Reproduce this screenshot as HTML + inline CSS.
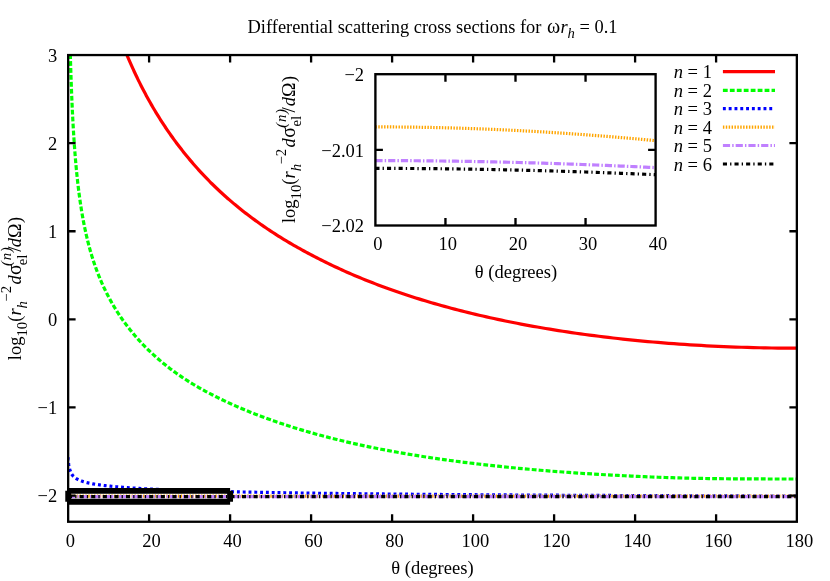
<!DOCTYPE html>
<html><head><meta charset="utf-8"><title>Differential scattering cross sections</title>
<style>html,body{margin:0;padding:0;background:#fff}svg{display:block;will-change:transform}text{font-family:"Liberation Serif",serif;font-size:18.5px;fill:#000}.i{font-style:italic}</style>
</head><body>
<svg width="830" height="581" viewBox="0 0 830 581">
<rect width="830" height="581" fill="#fff"/>
<defs><clipPath id="cm"><rect x="68" y="55" width="729" height="467"/></clipPath>
<clipPath id="ci"><rect x="375.4" y="74.2" width="280.2" height="151.3"/></clipPath></defs>
<g clip-path="url(#cm)" fill="none" stroke-width="3.2">
<path d="M120.00,37.47 L120.46,38.71 L120.93,39.94 L121.40,41.18 L121.88,42.41 L122.36,43.65 L122.85,44.89 L123.34,46.13 L123.83,47.38 L124.33,48.62 L124.83,49.86 L125.34,51.11 L125.85,52.36 L126.36,53.61 L126.88,54.86 L127.41,56.11 L127.94,57.36 L128.47,58.61 L129.01,59.87 L129.56,61.12 L130.10,62.38 L130.66,63.64 L131.22,64.90 L131.78,66.16 L132.35,67.42 L132.92,68.68 L133.50,69.95 L134.08,71.21 L134.67,72.48 L135.27,73.74 L135.86,75.01 L136.47,76.28 L137.08,77.55 L137.69,78.82 L138.31,80.09 L138.94,81.36 L139.57,82.63 L140.21,83.90 L140.85,85.18 L141.50,86.45 L142.15,87.73 L142.81,89.00 L143.48,90.28 L144.15,91.56 L144.83,92.83 L145.51,94.11 L146.20,95.39 L146.90,96.67 L147.60,97.95 L148.31,99.23 L149.02,100.51 L149.74,101.79 L150.47,103.08 L151.20,104.36 L151.94,105.64 L152.69,106.93 L153.44,108.21 L154.20,109.49 L154.97,110.78 L155.74,112.06 L156.52,113.35 L157.31,114.63 L158.10,115.92 L158.90,117.20 L159.71,118.49 L160.53,119.78 L161.35,121.06 L162.18,122.35 L163.02,123.63 L163.86,124.92 L164.71,126.21 L165.57,127.49 L166.44,128.78 L167.31,130.07 L168.20,131.35 L169.09,132.64 L169.98,133.93 L170.89,135.21 L171.80,136.50 L172.73,137.79 L173.66,139.07 L174.59,140.36 L175.54,141.64 L176.50,142.93 L177.46,144.21 L178.43,145.50 L179.41,146.78 L180.40,148.07 L181.40,149.35 L182.41,150.63 L183.42,151.92 L184.45,153.20 L185.48,154.48 L186.52,155.76 L187.58,157.04 L188.64,158.32 L189.71,159.60 L190.79,160.88 L191.88,162.16 L192.98,163.44 L194.09,164.72 L195.21,166.00 L196.33,167.27 L197.47,168.55 L198.62,169.82 L199.78,171.09 L200.95,172.37 L202.13,173.64 L203.32,174.91 L204.52,176.18 L205.73,177.45 L206.95,178.72 L208.19,179.99 L209.43,181.25 L210.69,182.51 L211.95,183.76 L213.23,185.01 L214.52,186.26 L215.82,187.51 L217.13,188.76 L218.45,190.00 L219.78,191.25 L221.13,192.49 L222.49,193.73 L223.86,194.97 L225.24,196.21 L226.64,197.45 L228.04,198.68 L229.46,199.91 L230.89,201.15 L232.34,202.38 L233.80,203.61 L235.27,204.83 L236.75,206.06 L238.24,207.28 L239.75,208.50 L241.28,209.72 L242.81,210.94 L244.36,212.16 L245.93,213.37 L247.50,214.59 L249.09,215.80 L250.70,217.00 L252.32,218.21 L253.95,219.41 L255.60,220.62 L257.26,221.82 L258.94,223.01 L260.63,224.21 L262.34,225.40 L264.06,226.59 L265.80,227.78 L267.55,228.97 L269.32,230.15 L271.11,231.33 L272.91,232.51 L274.72,233.69 L276.55,234.86 L278.40,236.03 L280.27,237.20 L282.15,238.36 L284.05,239.53 L285.96,240.69 L287.89,241.84 L289.84,243.00 L291.80,244.15 L293.79,245.30 L295.79,246.44 L297.81,247.58 L299.84,248.72 L301.90,249.86 L303.97,250.99 L306.06,252.12 L308.17,253.25 L310.29,254.37 L312.44,255.50 L314.61,256.64 L316.79,257.77 L318.99,258.90 L321.22,260.03 L323.46,261.16 L325.72,262.28 L328.01,263.39 L330.31,264.51 L332.63,265.62 L334.98,266.72 L337.34,267.82 L339.73,268.92 L342.13,270.02 L344.56,271.11 L347.01,272.20 L349.48,273.28 L351.97,274.36 L354.49,275.43 L357.02,276.50 L359.58,277.57 L362.17,278.63 L364.77,279.69 L367.40,280.74 L370.05,281.79 L372.72,282.84 L375.42,283.88 L378.14,284.91 L380.89,285.94 L383.66,286.97 L386.46,287.99 L389.27,289.01 L392.12,290.02 L394.99,291.03 L397.88,292.03 L400.80,293.02 L403.75,294.02 L406.72,295.00 L409.72,295.98 L412.75,296.96 L415.80,297.93 L418.88,298.89 L421.98,299.85 L425.12,300.80 L428.28,301.75 L431.47,302.69 L434.69,303.63 L437.93,304.56 L441.21,305.48 L444.51,306.40 L447.84,307.31 L451.21,308.21 L454.60,309.11 L458.02,310.00 L461.47,310.89 L464.95,311.77 L468.47,312.64 L472.01,313.50 L475.59,314.36 L479.20,315.21 L482.83,316.05 L486.51,316.89 L490.21,317.72 L493.95,318.54 L497.72,319.35 L501.52,320.16 L505.36,320.96 L509.23,321.75 L513.13,322.53 L517.07,323.30 L521.05,324.07 L525.06,324.83 L529.10,325.57 L533.18,326.31 L537.30,327.05 L541.45,327.77 L545.64,328.48 L549.87,329.18 L554.13,329.88 L558.43,330.56 L562.77,331.24 L567.15,331.90 L571.57,332.56 L576.02,333.21 L580.52,333.84 L585.05,334.47 L589.63,335.08 L594.24,335.68 L598.90,336.27 L603.60,336.86 L608.34,337.43 L613.12,337.98 L617.94,338.53 L622.81,339.06 L627.72,339.59 L632.67,340.09 L637.67,340.59 L642.71,341.08 L647.79,341.55 L652.92,342.00 L658.10,342.45 L663.32,342.88 L668.58,343.29 L673.90,343.69 L679.26,344.08 L684.67,344.45 L690.12,344.81 L695.63,345.15 L701.18,345.47 L706.78,345.78 L712.43,346.07 L718.13,346.34 L723.88,346.60 L729.69,346.84 L735.54,347.06 L741.45,347.26 L747.40,347.45 L753.41,347.61 L759.48,347.75 L765.59,347.87 L771.77,347.98 L777.99,348.06 L784.27,348.11 L790.61,348.15 L797.00,348.16" stroke="#ff0000"/>
<path d="M69.60,26.36 L69.62,27.41 L69.65,28.47 L69.68,29.53 L69.70,30.61 L69.73,31.69 L69.75,32.78 L69.78,33.88 L69.81,34.98 L69.83,36.09 L69.86,37.20 L69.89,38.32 L69.92,39.45 L69.95,40.58 L69.97,41.72 L70.00,42.86 L70.03,44.00 L70.06,45.15 L70.09,46.31 L70.12,47.47 L70.15,48.63 L70.19,49.80 L70.22,50.97 L70.25,52.14 L70.28,53.32 L70.32,54.49 L70.35,55.68 L70.38,56.86 L70.42,58.05 L70.45,59.24 L70.49,60.43 L70.52,61.62 L70.56,62.82 L70.59,64.01 L70.63,65.21 L70.67,66.41 L70.70,67.62 L70.74,68.82 L70.78,70.02 L70.82,71.23 L70.86,72.43 L70.90,73.64 L70.94,74.85 L70.98,76.06 L71.02,77.26 L71.06,78.47 L71.10,79.68 L71.14,80.89 L71.19,82.10 L71.23,83.31 L71.27,84.52 L71.32,85.73 L71.36,86.94 L71.41,88.15 L71.46,89.36 L71.50,90.57 L71.55,91.78 L71.60,92.99 L71.65,94.19 L71.69,95.40 L71.74,96.61 L71.79,97.81 L71.84,99.02 L71.90,100.22 L71.95,101.42 L72.00,102.62 L72.05,103.82 L72.11,105.02 L72.16,106.22 L72.22,107.42 L72.27,108.62 L72.33,109.81 L72.38,111.00 L72.44,112.20 L72.50,113.39 L72.56,114.58 L72.62,115.76 L72.68,116.95 L72.74,118.13 L72.80,119.32 L72.86,120.50 L72.93,121.68 L72.99,122.86 L73.06,124.03 L73.12,125.21 L73.19,126.38 L73.26,127.55 L73.32,128.72 L73.39,129.89 L73.46,131.05 L73.53,132.22 L73.60,133.38 L73.68,134.54 L73.75,135.70 L73.82,136.85 L73.90,138.01 L73.97,139.16 L74.05,140.31 L74.13,141.46 L74.20,142.60 L74.28,143.75 L74.36,144.89 L74.44,146.03 L74.53,147.17 L74.61,148.30 L74.69,149.44 L74.78,150.57 L74.86,151.70 L74.95,152.82 L75.04,153.95 L75.13,155.07 L75.22,156.19 L75.31,157.31 L75.40,158.42 L75.49,159.54 L75.59,160.65 L75.68,161.76 L75.78,162.86 L75.88,163.97 L75.98,165.07 L76.08,166.17 L76.18,167.27 L76.28,168.37 L76.38,169.46 L76.49,170.55 L76.59,171.64 L76.70,172.73 L76.81,173.81 L76.92,174.89 L77.03,175.97 L77.14,177.05 L77.26,178.13 L77.37,179.20 L77.49,180.27 L77.60,181.34 L77.72,182.41 L77.84,183.47 L77.97,184.53 L78.09,185.59 L78.21,186.65 L78.34,187.71 L78.47,188.76 L78.60,189.81 L78.73,190.86 L78.86,191.91 L79.00,192.95 L79.13,194.00 L79.27,195.04 L79.41,196.08 L79.55,197.11 L79.69,198.15 L79.83,199.18 L79.98,200.21 L80.13,201.24 L80.27,202.26 L80.43,203.29 L80.58,204.31 L80.73,205.33 L80.89,206.35 L81.05,207.36 L81.21,208.38 L81.37,209.39 L81.53,210.40 L81.70,211.41 L81.86,212.41 L82.03,213.42 L82.20,214.42 L82.38,215.42 L82.55,216.42 L82.73,217.41 L82.91,218.41 L83.09,219.40 L83.28,220.39 L83.46,221.38 L83.65,222.37 L83.84,223.35 L84.03,224.34 L84.23,225.32 L84.43,226.30 L84.63,227.28 L84.83,228.26 L85.03,229.23 L85.24,230.20 L85.45,231.18 L85.66,232.15 L85.87,233.12 L86.09,234.08 L86.31,235.05 L86.53,236.01 L86.76,236.97 L86.98,237.94 L87.21,238.89 L87.45,239.85 L87.68,240.81 L87.92,241.76 L88.16,242.72 L88.40,243.67 L88.65,244.62 L88.90,245.57 L89.15,246.52 L89.41,247.46 L89.67,248.41 L89.93,249.35 L90.19,250.30 L90.46,251.24 L90.73,252.18 L91.00,253.12 L91.28,254.05 L91.56,254.99 L91.84,255.93 L92.13,256.86 L92.42,257.79 L92.72,258.73 L93.01,259.66 L93.31,260.59 L93.62,261.52 L93.93,262.44 L94.24,263.37 L94.55,264.30 L94.87,265.22 L95.20,266.14 L95.52,267.07 L95.85,267.99 L96.19,268.91 L96.53,269.83 L96.87,270.75 L97.21,271.67 L97.56,272.59 L97.92,273.50 L98.28,274.42 L98.64,275.33 L99.01,276.25 L99.38,277.16 L99.76,278.08 L100.14,278.99 L100.52,279.90 L100.91,280.81 L101.30,281.72 L101.70,282.63 L102.11,283.54 L102.51,284.45 L102.93,285.36 L103.35,286.27 L103.77,287.17 L104.20,288.08 L104.63,288.99 L105.07,289.89 L105.51,290.81 L105.96,291.73 L106.41,292.64 L106.87,293.56 L107.33,294.47 L107.80,295.39 L108.28,296.30 L108.76,297.22 L109.25,298.13 L109.74,299.05 L110.24,299.96 L110.74,300.87 L111.25,301.79 L111.77,302.70 L112.29,303.62 L112.82,304.53 L113.35,305.44 L113.89,306.36 L114.44,307.27 L114.99,308.18 L115.55,309.10 L116.12,310.01 L116.69,310.93 L117.27,311.84 L117.86,312.75 L118.46,313.67 L119.06,314.58 L119.66,315.50 L120.28,316.41 L120.90,317.32 L121.53,318.24 L122.17,319.15 L122.81,320.07 L123.47,320.98 L124.13,321.90 L124.79,322.82 L125.47,323.73 L126.15,324.65 L126.84,325.57 L127.54,326.49 L128.25,327.42 L128.97,328.34 L129.69,329.26 L130.43,330.18 L131.17,331.10 L131.92,332.02 L132.68,332.95 L133.45,333.87 L134.23,334.79 L135.01,335.72 L135.81,336.64 L136.62,337.57 L137.43,338.49 L138.26,339.42 L139.09,340.34 L139.93,341.27 L140.79,342.20 L141.65,343.13 L142.53,344.05 L143.41,344.98 L144.31,345.91 L145.21,346.84 L146.13,347.76 L147.06,348.67 L147.99,349.59 L148.94,350.51 L149.90,351.43 L150.88,352.35 L151.86,353.27 L152.85,354.19 L153.86,355.11 L154.88,356.03 L155.91,356.95 L156.95,357.87 L158.01,358.79 L159.08,359.71 L160.16,360.63 L161.25,361.55 L162.35,362.47 L163.47,363.40 L164.60,364.32 L165.75,365.24 L166.91,366.17 L168.08,367.09 L169.27,368.01 L170.47,368.93 L171.68,369.84 L172.91,370.74 L174.15,371.64 L175.41,372.55 L176.68,373.45 L177.97,374.36 L179.27,375.26 L180.59,376.17 L181.93,377.07 L183.27,377.97 L184.64,378.88 L186.02,379.78 L187.42,380.68 L188.83,381.59 L190.26,382.49 L191.71,383.37 L193.18,384.25 L194.66,385.14 L196.16,386.02 L197.68,386.90 L199.21,387.78 L200.76,388.66 L202.34,389.54 L203.93,390.41 L205.54,391.29 L207.16,392.17 L208.81,393.04 L210.48,393.92 L212.16,394.79 L213.87,395.66 L215.60,396.54 L217.34,397.41 L219.11,398.28 L220.90,399.14 L222.71,400.01 L224.54,400.88 L226.39,401.74 L228.26,402.61 L230.16,403.48 L232.08,404.36 L234.02,405.23 L235.98,406.11 L237.97,406.98 L239.98,407.85 L242.01,408.72 L244.07,409.59 L246.15,410.45 L248.26,411.31 L250.39,412.18 L252.55,413.04 L254.73,413.90 L256.94,414.75 L259.17,415.61 L261.43,416.46 L263.72,417.31 L266.03,418.16 L268.38,419.01 L270.74,419.87 L273.14,420.72 L275.57,421.56 L278.02,422.41 L280.50,423.25 L283.02,424.09 L285.56,424.93 L288.13,425.77 L290.73,426.60 L293.36,427.43 L296.03,428.26 L298.72,429.08 L301.45,429.90 L304.21,430.72 L307.00,431.54 L309.82,432.35 L312.68,433.16 L315.57,433.96 L318.50,434.77 L321.46,435.56 L324.45,436.36 L327.48,437.15 L330.55,437.94 L333.65,438.72 L336.79,439.50 L339.97,440.28 L343.18,441.05 L346.43,441.82 L349.72,442.58 L353.05,443.34 L356.42,444.10 L359.82,444.85 L363.27,445.60 L366.76,446.34 L370.29,447.07 L373.86,447.80 L377.47,448.52 L381.13,449.23 L384.83,449.94 L388.57,450.65 L392.36,451.34 L396.19,452.04 L400.06,452.73 L403.99,453.41 L407.95,454.08 L411.97,454.75 L416.03,455.42 L420.14,456.08 L424.30,456.73 L428.51,457.37 L432.77,458.01 L437.07,458.64 L441.43,459.27 L445.84,459.89 L450.30,460.50 L454.82,461.10 L459.39,461.70 L464.01,462.29 L468.68,462.87 L473.42,463.45 L478.20,464.02 L483.05,464.58 L487.95,465.13 L492.91,465.67 L497.92,466.21 L503.00,466.74 L508.13,467.27 L513.33,467.78 L518.59,468.29 L523.91,468.79 L529.29,469.28 L534.74,469.76 L540.25,470.23 L545.82,470.69 L551.46,471.14 L557.17,471.59 L562.95,472.02 L568.79,472.44 L574.70,472.85 L580.68,473.25 L586.73,473.64 L592.86,474.02 L599.05,474.39 L605.32,474.74 L611.66,475.08 L618.08,475.41 L624.58,475.75 L631.15,476.08 L637.79,476.39 L644.52,476.69 L651.32,476.98 L658.21,477.24 L665.17,477.49 L672.22,477.72 L679.35,477.93 L686.57,478.12 L693.87,478.29 L701.26,478.43 L708.73,478.56 L716.29,478.66 L723.95,478.75 L731.69,478.82 L739.52,478.88 L747.45,478.92 L755.46,478.95 L763.58,478.97 L771.79,478.99 L780.09,479.00 L788.50,479.01 L797.00,479.02" stroke="#00ff00" stroke-dasharray="4.8 2.15"/>
<path d="M68.10,457.42 L68.11,457.62 L68.12,457.82 L68.13,458.01 L68.14,458.20 L68.16,458.39 L68.17,458.59 L68.18,458.78 L68.19,458.96 L68.20,459.15 L68.22,459.34 L68.23,459.53 L68.24,459.71 L68.26,459.90 L68.27,460.08 L68.28,460.27 L68.30,460.45 L68.31,460.63 L68.33,460.81 L68.34,460.99 L68.36,461.17 L68.37,461.35 L68.39,461.52 L68.40,461.70 L68.42,461.87 L68.44,462.05 L68.45,462.22 L68.47,462.40 L68.49,462.57 L68.51,462.74 L68.52,462.91 L68.54,463.08 L68.56,463.25 L68.58,463.42 L68.60,463.58 L68.62,463.75 L68.64,463.92 L68.66,464.08 L68.68,464.25 L68.70,464.41 L68.72,464.57 L68.74,464.73 L68.77,464.89 L68.79,465.05 L68.81,465.21 L68.84,465.37 L68.86,465.53 L68.89,465.69 L68.91,465.84 L68.94,466.00 L68.96,466.15 L68.99,466.31 L69.01,466.46 L69.04,466.61 L69.07,466.77 L69.10,466.92 L69.13,467.07 L69.16,467.22 L69.18,467.37 L69.22,467.52 L69.25,467.66 L69.28,467.81 L69.31,467.96 L69.34,468.10 L69.37,468.25 L69.41,468.39 L69.44,468.53 L69.48,468.68 L69.51,468.82 L69.55,468.96 L69.59,469.10 L69.62,469.24 L69.66,469.38 L69.70,469.52 L69.74,469.66 L69.78,469.80 L69.82,469.93 L69.86,470.07 L69.91,470.20 L69.95,470.34 L69.99,470.47 L70.04,470.61 L70.08,470.74 L70.13,470.87 L70.18,471.00 L70.22,471.13 L70.27,471.27 L70.32,471.39 L70.37,471.52 L70.43,471.65 L70.48,471.78 L70.53,471.91 L70.59,472.03 L70.64,472.16 L70.70,472.29 L70.76,472.41 L70.81,472.54 L70.87,472.66 L70.93,472.78 L71.00,472.91 L71.06,473.03 L71.12,473.15 L71.19,473.27 L71.25,473.39 L71.32,473.51 L71.39,473.63 L71.46,473.75 L71.53,473.87 L71.60,473.99 L71.68,474.10 L71.75,474.22 L71.83,474.34 L71.91,474.45 L71.99,474.57 L72.07,474.68 L72.15,474.80 L72.23,474.91 L72.32,475.02 L72.40,475.13 L72.49,475.25 L72.58,475.36 L72.67,475.47 L72.76,475.58 L72.86,475.69 L72.96,475.80 L73.05,475.91 L73.15,476.02 L73.26,476.13 L73.36,476.23 L73.46,476.34 L73.57,476.45 L73.68,476.55 L73.79,476.66 L73.90,476.77 L74.02,476.87 L74.14,476.97 L74.26,477.08 L74.38,477.18 L74.50,477.29 L74.63,477.39 L74.75,477.49 L74.88,477.59 L75.02,477.69 L75.15,477.80 L75.29,477.90 L75.43,478.00 L75.57,478.10 L75.72,478.20 L75.86,478.30 L76.01,478.39 L76.17,478.49 L76.32,478.59 L76.48,478.69 L76.64,478.79 L76.81,478.88 L76.97,478.98 L77.14,479.07 L77.32,479.17 L77.49,479.27 L77.67,479.36 L77.86,479.46 L78.04,479.55 L78.23,479.64 L78.42,479.74 L78.62,479.83 L78.82,479.92 L79.02,480.02 L79.23,480.11 L79.44,480.20 L79.66,480.29 L79.87,480.38 L80.10,480.47 L80.32,480.57 L80.55,480.66 L80.79,480.75 L81.03,480.84 L81.27,480.93 L81.52,481.01 L81.77,481.10 L82.02,481.19 L82.29,481.28 L82.55,481.37 L82.82,481.46 L83.10,481.54 L83.38,481.63 L83.66,481.72 L83.95,481.80 L84.25,481.89 L84.55,481.98 L84.85,482.06 L85.17,482.15 L85.48,482.23 L85.81,482.32 L86.14,482.41 L86.47,482.49 L86.81,482.57 L87.16,482.66 L87.51,482.74 L87.87,482.83 L88.24,482.91 L88.61,482.99 L88.99,483.08 L89.37,483.16 L89.77,483.24 L90.17,483.33 L90.57,483.41 L90.99,483.49 L91.41,483.57 L91.84,483.65 L92.28,483.74 L92.72,483.82 L93.17,483.90 L93.64,483.98 L94.11,484.06 L94.58,484.14 L95.07,484.22 L95.56,484.30 L96.07,484.38 L96.58,484.46 L97.10,484.54 L97.64,484.62 L98.18,484.70 L98.73,484.78 L99.29,484.86 L99.86,484.94 L100.44,485.02 L101.03,485.10 L101.64,485.18 L102.25,485.26 L102.87,485.34 L103.51,485.42 L104.15,485.50 L104.81,485.57 L105.48,485.65 L106.17,485.73 L106.86,485.81 L107.57,485.89 L108.29,485.97 L109.02,486.04 L109.77,486.12 L110.52,486.20 L111.30,486.28 L112.08,486.36 L112.88,486.43 L113.70,486.51 L114.53,486.59 L115.37,486.67 L116.23,486.75 L117.11,486.82 L118.00,486.90 L118.91,486.98 L119.83,487.05 L120.77,487.13 L121.73,487.21 L122.70,487.29 L123.69,487.36 L124.70,487.44 L125.73,487.52 L126.78,487.59 L127.84,487.67 L128.92,487.75 L130.03,487.82 L131.15,487.90 L132.29,487.97 L133.46,488.05 L134.64,488.13 L135.85,488.20 L137.08,488.28 L138.33,488.35 L139.60,488.43 L140.89,488.50 L142.21,488.58 L143.55,488.65 L144.92,488.73 L146.31,488.80 L147.73,488.88 L149.17,488.95 L150.63,489.03 L152.13,489.10 L153.65,489.18 L155.20,489.25 L156.77,489.32 L158.37,489.40 L160.01,489.47 L161.67,489.54 L163.36,489.62 L165.08,489.69 L166.83,489.76 L168.62,489.83 L170.43,489.91 L172.28,489.98 L174.16,490.05 L176.08,490.12 L178.03,490.19 L180.02,490.26 L182.04,490.34 L184.09,490.41 L186.19,490.48 L188.32,490.55 L190.49,490.62 L192.70,490.69 L194.95,490.76 L197.24,490.83 L199.57,490.90 L201.94,490.97 L204.36,491.04 L206.81,491.10 L209.32,491.17 L211.86,491.24 L214.46,491.31 L217.10,491.38 L219.78,491.44 L222.52,491.51 L225.30,491.58 L228.14,491.65 L231.02,491.71 L233.96,491.78 L236.95,491.84 L239.99,491.91 L243.09,491.98 L246.25,492.04 L249.46,492.11 L252.72,492.17 L256.05,492.24 L259.44,492.30 L262.89,492.36 L266.40,492.43 L269.97,492.49 L273.60,492.55 L277.31,492.62 L281.08,492.68 L284.91,492.74 L288.82,492.80 L292.79,492.86 L296.84,492.93 L300.96,492.99 L305.15,493.05 L309.42,493.11 L313.77,493.17 L318.19,493.23 L322.69,493.29 L327.28,493.34 L331.94,493.40 L336.69,493.46 L341.53,493.52 L346.45,493.58 L351.46,493.63 L356.56,493.69 L361.75,493.75 L367.04,493.80 L372.42,493.86 L377.89,493.92 L383.47,493.97 L389.14,494.03 L394.92,494.08 L400.80,494.13 L406.79,494.19 L412.88,494.24 L419.09,494.29 L425.40,494.35 L431.83,494.40 L438.38,494.45 L445.04,494.50 L451.82,494.55 L458.72,494.60 L465.75,494.65 L472.90,494.70 L480.18,494.75 L487.60,494.80 L495.14,494.85 L502.82,494.90 L510.64,494.95 L518.60,495.00 L526.70,495.04 L534.95,495.09 L543.35,495.14 L551.90,495.18 L560.60,495.23 L569.45,495.27 L578.47,495.32 L587.65,495.36 L596.99,495.40 L606.50,495.45 L616.18,495.49 L626.04,495.53 L636.07,495.57 L646.28,495.61 L656.68,495.66 L667.26,495.70 L678.03,495.74 L689.00,495.78 L700.16,495.81 L711.53,495.85 L723.10,495.89 L734.87,495.93 L746.86,495.97 L759.06,496.00 L771.48,496.04 L784.13,496.07 L797.00,496.11" stroke="#0000ff" stroke-dasharray="2.9 2.9"/>
<path d="M68.00,496.18 L72.05,496.18 L76.10,496.18 L80.15,496.18 L84.20,496.18 L88.25,496.18 L92.30,496.18 L96.35,496.18 L100.40,496.18 L104.45,496.18 L108.50,496.18 L112.55,496.18 L116.60,496.18 L120.65,496.18 L124.70,496.18 L128.75,496.18 L132.80,496.18 L136.85,496.18 L140.90,496.18 L144.95,496.18 L149.00,496.18 L153.05,496.18 L157.10,496.18 L161.15,496.18 L165.20,496.18 L169.25,496.18 L173.30,496.18 L177.35,496.18 L181.40,496.18 L185.45,496.18 L189.50,496.18 L193.55,496.18 L197.60,496.18 L201.65,496.18 L205.70,496.18 L209.75,496.18 L213.80,496.18 L217.85,496.18 L221.90,496.18 L225.95,496.18 L230.00,496.18 L234.05,496.18 L238.10,496.18 L242.15,496.18 L246.20,496.18 L250.25,496.18 L254.30,496.18 L258.35,496.18 L262.40,496.18 L266.45,496.18 L270.50,496.18 L274.55,496.18 L278.60,496.18 L282.65,496.18 L286.70,496.18 L290.75,496.18 L294.80,496.18 L298.85,496.18 L302.90,496.18 L306.95,496.18 L311.00,496.18 L315.05,496.18 L319.10,496.18 L323.15,496.18 L327.20,496.18 L331.25,496.18 L335.30,496.18 L339.35,496.18 L343.40,496.18 L347.45,496.18 L351.50,496.18 L355.55,496.18 L359.60,496.18 L363.65,496.18 L367.70,496.18 L371.75,496.18 L375.80,496.18 L379.85,496.18 L383.90,496.18 L387.95,496.18 L392.00,496.18 L396.05,496.18 L400.10,496.18 L404.15,496.18 L408.20,496.18 L412.25,496.18 L416.30,496.18 L420.35,496.18 L424.40,496.18 L428.45,496.18 L432.50,496.18 L436.55,496.18 L440.60,496.18 L444.65,496.18 L448.70,496.18 L452.75,496.18 L456.80,496.18 L460.85,496.18 L464.90,496.18 L468.95,496.18 L473.00,496.18 L477.05,496.18 L481.10,496.18 L485.15,496.18 L489.20,496.18 L493.25,496.18 L497.30,496.18 L501.35,496.18 L505.40,496.18 L509.45,496.18 L513.50,496.18 L517.55,496.18 L521.60,496.18 L525.65,496.18 L529.70,496.18 L533.75,496.18 L537.80,496.18 L541.85,496.18 L545.90,496.18 L549.95,496.18 L554.00,496.18 L558.05,496.18 L562.10,496.18 L566.15,496.18 L570.20,496.18 L574.25,496.18 L578.30,496.18 L582.35,496.18 L586.40,496.18 L590.45,496.18 L594.50,496.18 L598.55,496.18 L602.60,496.18 L606.65,496.18 L610.70,496.18 L614.75,496.18 L618.80,496.18 L622.85,496.18 L626.90,496.18 L630.95,496.18 L635.00,496.18 L639.05,496.18 L643.10,496.18 L647.15,496.18 L651.20,496.18 L655.25,496.18 L659.30,496.18 L663.35,496.18 L667.40,496.18 L671.45,496.18 L675.50,496.18 L679.55,496.18 L683.60,496.18 L687.65,496.18 L691.70,496.18 L695.75,496.18 L699.80,496.18 L703.85,496.18 L707.90,496.18 L711.95,496.18 L716.00,496.18 L720.05,496.18 L724.10,496.18 L728.15,496.18 L732.20,496.18 L736.25,496.18 L740.30,496.18 L744.35,496.18 L748.40,496.18 L752.45,496.18 L756.50,496.18 L760.55,496.18 L764.60,496.18 L768.65,496.18 L772.70,496.18 L776.75,496.18 L780.80,496.18 L784.85,496.18 L788.90,496.18 L792.95,496.18 L797.00,496.18" stroke="#ffa500" stroke-dasharray="1.45 1.44"/>
<path d="M68.00,496.57 L72.05,496.57 L76.10,496.57 L80.15,496.57 L84.20,496.57 L88.25,496.57 L92.30,496.57 L96.35,496.57 L100.40,496.57 L104.45,496.57 L108.50,496.57 L112.55,496.57 L116.60,496.57 L120.65,496.57 L124.70,496.57 L128.75,496.57 L132.80,496.57 L136.85,496.57 L140.90,496.57 L144.95,496.57 L149.00,496.57 L153.05,496.57 L157.10,496.57 L161.15,496.57 L165.20,496.57 L169.25,496.57 L173.30,496.57 L177.35,496.57 L181.40,496.57 L185.45,496.57 L189.50,496.57 L193.55,496.57 L197.60,496.57 L201.65,496.57 L205.70,496.57 L209.75,496.57 L213.80,496.57 L217.85,496.57 L221.90,496.57 L225.95,496.57 L230.00,496.57 L234.05,496.57 L238.10,496.57 L242.15,496.57 L246.20,496.57 L250.25,496.57 L254.30,496.57 L258.35,496.57 L262.40,496.57 L266.45,496.57 L270.50,496.57 L274.55,496.57 L278.60,496.57 L282.65,496.57 L286.70,496.57 L290.75,496.57 L294.80,496.57 L298.85,496.57 L302.90,496.57 L306.95,496.57 L311.00,496.57 L315.05,496.57 L319.10,496.57 L323.15,496.57 L327.20,496.57 L331.25,496.57 L335.30,496.57 L339.35,496.57 L343.40,496.57 L347.45,496.57 L351.50,496.57 L355.55,496.57 L359.60,496.57 L363.65,496.57 L367.70,496.57 L371.75,496.57 L375.80,496.57 L379.85,496.57 L383.90,496.57 L387.95,496.57 L392.00,496.57 L396.05,496.57 L400.10,496.57 L404.15,496.57 L408.20,496.57 L412.25,496.57 L416.30,496.57 L420.35,496.57 L424.40,496.57 L428.45,496.57 L432.50,496.57 L436.55,496.57 L440.60,496.57 L444.65,496.57 L448.70,496.57 L452.75,496.57 L456.80,496.57 L460.85,496.57 L464.90,496.57 L468.95,496.57 L473.00,496.57 L477.05,496.57 L481.10,496.57 L485.15,496.57 L489.20,496.57 L493.25,496.57 L497.30,496.57 L501.35,496.57 L505.40,496.57 L509.45,496.57 L513.50,496.57 L517.55,496.57 L521.60,496.57 L525.65,496.57 L529.70,496.57 L533.75,496.57 L537.80,496.57 L541.85,496.57 L545.90,496.57 L549.95,496.57 L554.00,496.57 L558.05,496.57 L562.10,496.57 L566.15,496.57 L570.20,496.57 L574.25,496.57 L578.30,496.57 L582.35,496.57 L586.40,496.57 L590.45,496.57 L594.50,496.57 L598.55,496.57 L602.60,496.57 L606.65,496.57 L610.70,496.57 L614.75,496.57 L618.80,496.57 L622.85,496.57 L626.90,496.57 L630.95,496.57 L635.00,496.57 L639.05,496.57 L643.10,496.57 L647.15,496.57 L651.20,496.57 L655.25,496.57 L659.30,496.57 L663.35,496.57 L667.40,496.57 L671.45,496.57 L675.50,496.57 L679.55,496.57 L683.60,496.57 L687.65,496.57 L691.70,496.57 L695.75,496.57 L699.80,496.57 L703.85,496.57 L707.90,496.57 L711.95,496.57 L716.00,496.57 L720.05,496.57 L724.10,496.57 L728.15,496.57 L732.20,496.57 L736.25,496.57 L740.30,496.57 L744.35,496.57 L748.40,496.57 L752.45,496.57 L756.50,496.57 L760.55,496.57 L764.60,496.57 L768.65,496.57 L772.70,496.57 L776.75,496.57 L780.80,496.57 L784.85,496.57 L788.90,496.57 L792.95,496.57 L797.00,496.57" stroke="#c080ff" stroke-dasharray="7.2 2.1 1.45 2"/>
<path d="M68.00,496.66 L72.05,496.66 L76.10,496.66 L80.15,496.66 L84.20,496.66 L88.25,496.66 L92.30,496.66 L96.35,496.66 L100.40,496.66 L104.45,496.66 L108.50,496.66 L112.55,496.66 L116.60,496.66 L120.65,496.66 L124.70,496.66 L128.75,496.66 L132.80,496.66 L136.85,496.66 L140.90,496.66 L144.95,496.66 L149.00,496.66 L153.05,496.66 L157.10,496.66 L161.15,496.66 L165.20,496.66 L169.25,496.66 L173.30,496.66 L177.35,496.66 L181.40,496.66 L185.45,496.66 L189.50,496.66 L193.55,496.66 L197.60,496.66 L201.65,496.66 L205.70,496.66 L209.75,496.66 L213.80,496.66 L217.85,496.66 L221.90,496.66 L225.95,496.66 L230.00,496.66 L234.05,496.66 L238.10,496.66 L242.15,496.66 L246.20,496.66 L250.25,496.66 L254.30,496.66 L258.35,496.66 L262.40,496.66 L266.45,496.66 L270.50,496.66 L274.55,496.66 L278.60,496.66 L282.65,496.66 L286.70,496.66 L290.75,496.66 L294.80,496.66 L298.85,496.66 L302.90,496.66 L306.95,496.66 L311.00,496.66 L315.05,496.66 L319.10,496.66 L323.15,496.66 L327.20,496.66 L331.25,496.66 L335.30,496.66 L339.35,496.66 L343.40,496.66 L347.45,496.66 L351.50,496.66 L355.55,496.66 L359.60,496.66 L363.65,496.66 L367.70,496.66 L371.75,496.66 L375.80,496.66 L379.85,496.66 L383.90,496.66 L387.95,496.66 L392.00,496.66 L396.05,496.66 L400.10,496.66 L404.15,496.66 L408.20,496.66 L412.25,496.66 L416.30,496.66 L420.35,496.66 L424.40,496.66 L428.45,496.66 L432.50,496.66 L436.55,496.66 L440.60,496.66 L444.65,496.66 L448.70,496.66 L452.75,496.66 L456.80,496.66 L460.85,496.66 L464.90,496.66 L468.95,496.66 L473.00,496.66 L477.05,496.66 L481.10,496.66 L485.15,496.66 L489.20,496.66 L493.25,496.66 L497.30,496.66 L501.35,496.66 L505.40,496.66 L509.45,496.66 L513.50,496.66 L517.55,496.66 L521.60,496.66 L525.65,496.66 L529.70,496.66 L533.75,496.66 L537.80,496.66 L541.85,496.66 L545.90,496.66 L549.95,496.66 L554.00,496.66 L558.05,496.66 L562.10,496.66 L566.15,496.66 L570.20,496.66 L574.25,496.66 L578.30,496.66 L582.35,496.66 L586.40,496.66 L590.45,496.66 L594.50,496.66 L598.55,496.66 L602.60,496.66 L606.65,496.66 L610.70,496.66 L614.75,496.66 L618.80,496.66 L622.85,496.66 L626.90,496.66 L630.95,496.66 L635.00,496.66 L639.05,496.66 L643.10,496.66 L647.15,496.66 L651.20,496.66 L655.25,496.66 L659.30,496.66 L663.35,496.66 L667.40,496.66 L671.45,496.66 L675.50,496.66 L679.55,496.66 L683.60,496.66 L687.65,496.66 L691.70,496.66 L695.75,496.66 L699.80,496.66 L703.85,496.66 L707.90,496.66 L711.95,496.66 L716.00,496.66 L720.05,496.66 L724.10,496.66 L728.15,496.66 L732.20,496.66 L736.25,496.66 L740.30,496.66 L744.35,496.66 L748.40,496.66 L752.45,496.66 L756.50,496.66 L760.55,496.66 L764.60,496.66 L768.65,496.66 L772.70,496.66 L776.75,496.66 L780.80,496.66 L784.85,496.66 L788.90,496.66 L792.95,496.66 L797.00,496.66" stroke="#000000" stroke-dasharray="4.1 3.1 1.3 3.1"/>
</g>
<g stroke="#000" stroke-width="5.85" fill="none">
<path d="M68.20,490.87 H230.10 M68.20,501.77 H230.10 M68.20,490.87 V501.77 M230.10,490.87 V501.77"/>
</g>
<g stroke="#000" stroke-width="2.3" fill="none">
<rect x="68.15" y="55.05" width="728.7" height="466.7"/>
<path d="M149.10,521.8 v-7.5 M149.10,55 v7.5 M230.10,521.8 v-7.5 M230.10,55 v7.5 M311.10,521.8 v-7.5 M311.10,55 v7.5 M392.10,521.8 v-7.5 M392.10,55 v7.5 M473.10,521.8 v-7.5 M473.10,55 v7.5 M554.10,521.8 v-7.5 M554.10,55 v7.5 M635.10,521.8 v-7.5 M635.10,55 v7.5 M716.10,521.8 v-7.5 M716.10,55 v7.5 M68.1,143.11 h7.5 M796.9,143.11 h-7.5 M68.1,231.23 h7.5 M796.9,231.23 h-7.5 M68.1,319.34 h7.5 M796.9,319.34 h-7.5 M68.1,407.45 h7.5 M796.9,407.45 h-7.5 M68.1,495.57 h7.5 M796.9,495.57 h-7.5"/>
</g>
<g text-anchor="middle">
<text x="70.4" y="546.7">0</text>
<text x="151.4" y="546.7">20</text>
<text x="232.4" y="546.7">40</text>
<text x="313.4" y="546.7">60</text>
<text x="394.4" y="546.7">80</text>
<text x="475.4" y="546.7">100</text>
<text x="556.4" y="546.7">120</text>
<text x="637.4" y="546.7">140</text>
<text x="718.4" y="546.7">160</text>
<text x="799.4" y="546.7">180</text>
</g>
<g text-anchor="end">
<text x="57.3" y="61.7">3</text>
<text x="57.3" y="149.8">2</text>
<text x="57.3" y="237.9">1</text>
<text x="57.3" y="326.0">0</text>
<text x="57.3" y="414.2">−1</text>
<text x="57.3" y="502.3">−2</text>
</g>
<text x="247.6" y="32.6" style="font-size:18.4px">Differential scattering cross sections for <tspan dx="1" style="font-size:20px">ω</tspan><tspan class="i" dx="0.2">r</tspan><tspan class="i" font-size="14.7" dy="4.9">h</tspan><tspan dy="-4.9"> = 0.1</tspan></text>
<text x="432.4" y="574.2" text-anchor="middle">θ (degrees)</text>
<g transform="translate(20.7,360.2) rotate(-90)">
<text x="0" y="0">log<tspan font-size="14.8" dy="6">10</tspan><tspan dy="-6">(</tspan><tspan class="i">r</tspan><tspan class="i" font-size="14.8" dy="6">h</tspan><tspan font-size="14.8" dy="-15.3" dx="-0.7">−2</tspan><tspan class="i" dy="9.3" dx="1.4">d</tspan><tspan font-size="20" dx="0.4">σ</tspan></text>
<text x="94.9" y="6" style="font-size:14.8px">el</text>
<text x="94.3" y="-9.3" class="i" style="font-size:14.8px;letter-spacing:0.7px">(n)</text>
<text x="108.4" y="0">/<tspan class="i" dx="-0.6">d</tspan><tspan font-size="19.5">Ω</tspan><tspan dx="0.5">)</tspan></text>
</g>
<g transform="translate(295.3,223.1) rotate(-90)">
<text x="0" y="0">log<tspan font-size="14.8" dy="6">10</tspan><tspan dy="-6">(</tspan><tspan class="i">r</tspan><tspan class="i" font-size="14.8" dy="6">h</tspan><tspan font-size="14.8" dy="-15.3" dx="-0.7">−2</tspan><tspan class="i" dy="9.3" dx="1.4">d</tspan><tspan font-size="20" dx="0.4">σ</tspan></text>
<text x="96.6" y="6" style="font-size:14.8px">el</text>
<text x="95.4" y="-9.3" class="i" style="font-size:14.8px;letter-spacing:0.7px">(n)</text>
<text x="110.7" y="0">/<tspan class="i" dx="0.9">d</tspan><tspan font-size="19.5">Ω</tspan><tspan dx="0.5">)</tspan></text>
</g>
<rect x="375.4" y="74.2" width="280.2" height="151.3" fill="#fff"/>
<g clip-path="url(#ci)" fill="none" stroke-width="3.2">
<path d="M375.40,126.90 L378.90,126.90 L382.40,126.91 L385.91,126.92 L389.41,126.94 L392.91,126.96 L396.41,126.98 L399.92,127.01 L403.42,127.04 L406.92,127.08 L410.42,127.12 L413.93,127.17 L417.43,127.22 L420.93,127.28 L424.44,127.34 L427.94,127.40 L431.44,127.47 L434.94,127.54 L438.44,127.62 L441.95,127.71 L445.45,127.79 L448.95,127.88 L452.45,127.98 L455.96,128.08 L459.46,128.18 L462.96,128.29 L466.46,128.40 L469.97,128.52 L473.47,128.64 L476.97,128.77 L480.48,128.90 L483.98,129.03 L487.48,129.17 L490.98,129.32 L494.49,129.46 L497.99,129.62 L501.49,129.77 L504.99,129.93 L508.50,130.10 L512.00,130.27 L515.50,130.44 L519.00,130.62 L522.50,130.80 L526.01,130.98 L529.51,131.17 L533.01,131.37 L536.51,131.57 L540.02,131.77 L543.52,131.97 L547.02,132.19 L550.52,132.40 L554.03,132.62 L557.53,132.84 L561.03,133.07 L564.54,133.30 L568.04,133.53 L571.54,133.77 L575.04,134.01 L578.55,134.26 L582.05,134.51 L585.55,134.76 L589.05,135.02 L592.56,135.28 L596.06,135.55 L599.56,135.82 L603.06,136.09 L606.57,136.37 L610.07,136.65 L613.57,136.94 L617.07,137.22 L620.58,137.52 L624.08,137.81 L627.58,138.11 L631.08,138.41 L634.59,138.72 L638.09,139.03 L641.59,139.34 L645.09,139.66 L648.60,139.98 L652.10,140.31 L655.60,140.63" stroke="#ffa500" stroke-dasharray="1.45 1.44"/>
<path d="M375.40,160.60 L378.90,160.60 L382.40,160.60 L385.91,160.61 L389.41,160.62 L392.91,160.63 L396.41,160.64 L399.92,160.66 L403.42,160.67 L406.92,160.69 L410.42,160.71 L413.93,160.74 L417.43,160.76 L420.93,160.79 L424.44,160.82 L427.94,160.86 L431.44,160.89 L434.94,160.93 L438.44,160.97 L441.95,161.01 L445.45,161.06 L448.95,161.10 L452.45,161.15 L455.96,161.20 L459.46,161.26 L462.96,161.31 L466.46,161.37 L469.97,161.43 L473.47,161.49 L476.97,161.56 L480.48,161.62 L483.98,161.69 L487.48,161.76 L490.98,161.84 L494.49,161.91 L497.99,161.99 L501.49,162.07 L504.99,162.15 L508.50,162.23 L512.00,162.32 L515.50,162.41 L519.00,162.50 L522.50,162.59 L526.01,162.69 L529.51,162.78 L533.01,162.88 L536.51,162.98 L540.02,163.09 L543.52,163.19 L547.02,163.30 L550.52,163.41 L554.03,163.52 L557.53,163.64 L561.03,163.75 L564.54,163.87 L568.04,163.99 L571.54,164.11 L575.04,164.24 L578.55,164.36 L582.05,164.49 L585.55,164.62 L589.05,164.75 L592.56,164.88 L596.06,165.02 L599.56,165.16 L603.06,165.30 L606.57,165.44 L610.07,165.58 L613.57,165.73 L617.07,165.88 L620.58,166.03 L624.08,166.18 L627.58,166.33 L631.08,166.48 L634.59,166.64 L638.09,166.80 L641.59,166.96 L645.09,167.12 L648.60,167.29 L652.10,167.45 L655.60,167.62" stroke="#c080ff" stroke-dasharray="7.2 2.1 1.45 2"/>
<path d="M375.40,168.40 L378.90,168.40 L382.40,168.40 L385.91,168.41 L389.41,168.42 L392.91,168.43 L396.41,168.44 L399.92,168.45 L403.42,168.47 L406.92,168.48 L410.42,168.50 L413.93,168.52 L417.43,168.55 L420.93,168.57 L424.44,168.60 L427.94,168.63 L431.44,168.66 L434.94,168.70 L438.44,168.73 L441.95,168.77 L445.45,168.81 L448.95,168.85 L452.45,168.90 L455.96,168.94 L459.46,168.99 L462.96,169.04 L466.46,169.09 L469.97,169.15 L473.47,169.20 L476.97,169.26 L480.48,169.32 L483.98,169.38 L487.48,169.45 L490.98,169.51 L494.49,169.58 L497.99,169.65 L501.49,169.72 L504.99,169.80 L508.50,169.87 L512.00,169.95 L515.50,170.03 L519.00,170.11 L522.50,170.19 L526.01,170.28 L529.51,170.37 L533.01,170.46 L536.51,170.55 L540.02,170.64 L543.52,170.73 L547.02,170.83 L550.52,170.93 L554.03,171.03 L557.53,171.13 L561.03,171.24 L564.54,171.34 L568.04,171.45 L571.54,171.56 L575.04,171.67 L578.55,171.79 L582.05,171.90 L585.55,172.02 L589.05,172.14 L592.56,172.26 L596.06,172.38 L599.56,172.50 L603.06,172.63 L606.57,172.76 L610.07,172.89 L613.57,173.02 L617.07,173.15 L620.58,173.28 L624.08,173.42 L627.58,173.56 L631.08,173.70 L634.59,173.84 L638.09,173.98 L641.59,174.12 L645.09,174.27 L648.60,174.42 L652.10,174.57 L655.60,174.72" stroke="#000000" stroke-dasharray="4.1 3.1 1.3 3.1"/>
</g>
<g stroke="#000" stroke-width="2.35" fill="none">
<rect x="375.4" y="74.2" width="280.2" height="151.3"/>
<path d="M445.45,225.6 v-7.5 M445.45,74.2 v7.5 M515.50,225.6 v-7.5 M515.50,74.2 v7.5 M585.55,225.6 v-7.5 M585.55,74.2 v7.5 M375.4,149.92 h7.5 M655.6,149.92 h-7.5"/>
</g>
<g text-anchor="middle">
<text x="377.8" y="250.2">0</text>
<text x="447.8" y="250.2">10</text>
<text x="517.9" y="250.2">20</text>
<text x="587.9" y="250.2">30</text>
<text x="658.0" y="250.2">40</text>
<text x="516" y="278">θ (degrees)</text>
</g>
<g text-anchor="end">
<text x="364.1" y="81.0">−2</text>
<text x="364.1" y="156.6">−2.01</text>
<text x="364.1" y="232.3">−2.02</text>
</g>
<g fill="none" stroke-width="3.2">
<path d="M722.9,71.7 H775.0" stroke="#ff0000"/>
<path d="M722.9,90.4 H775.0" stroke="#00ff00" stroke-dasharray="4.8 2.15"/>
<path d="M722.9,108.6 H775.0" stroke="#0000ff" stroke-dasharray="2.9 2.9"/>
<path d="M722.9,127.2 H775.0" stroke="#ffa500" stroke-dasharray="1.45 1.44"/>
<path d="M722.9,145.5 H775.0" stroke="#c080ff" stroke-dasharray="7.2 2.1 1.45 2"/>
<path d="M722.9,164.0 H775.0" stroke="#000000" stroke-dasharray="4.1 3.1 1.3 3.1"/>
</g>
<g text-anchor="end">
<text x="711.9" y="78.3"><tspan class="i">n</tspan> = 1</text>
<text x="711.9" y="97.0"><tspan class="i">n</tspan> = 2</text>
<text x="711.9" y="115.2"><tspan class="i">n</tspan> = 3</text>
<text x="711.9" y="133.8"><tspan class="i">n</tspan> = 4</text>
<text x="711.9" y="152.1"><tspan class="i">n</tspan> = 5</text>
<text x="711.9" y="170.6"><tspan class="i">n</tspan> = 6</text>
</g>
</svg></body></html>
